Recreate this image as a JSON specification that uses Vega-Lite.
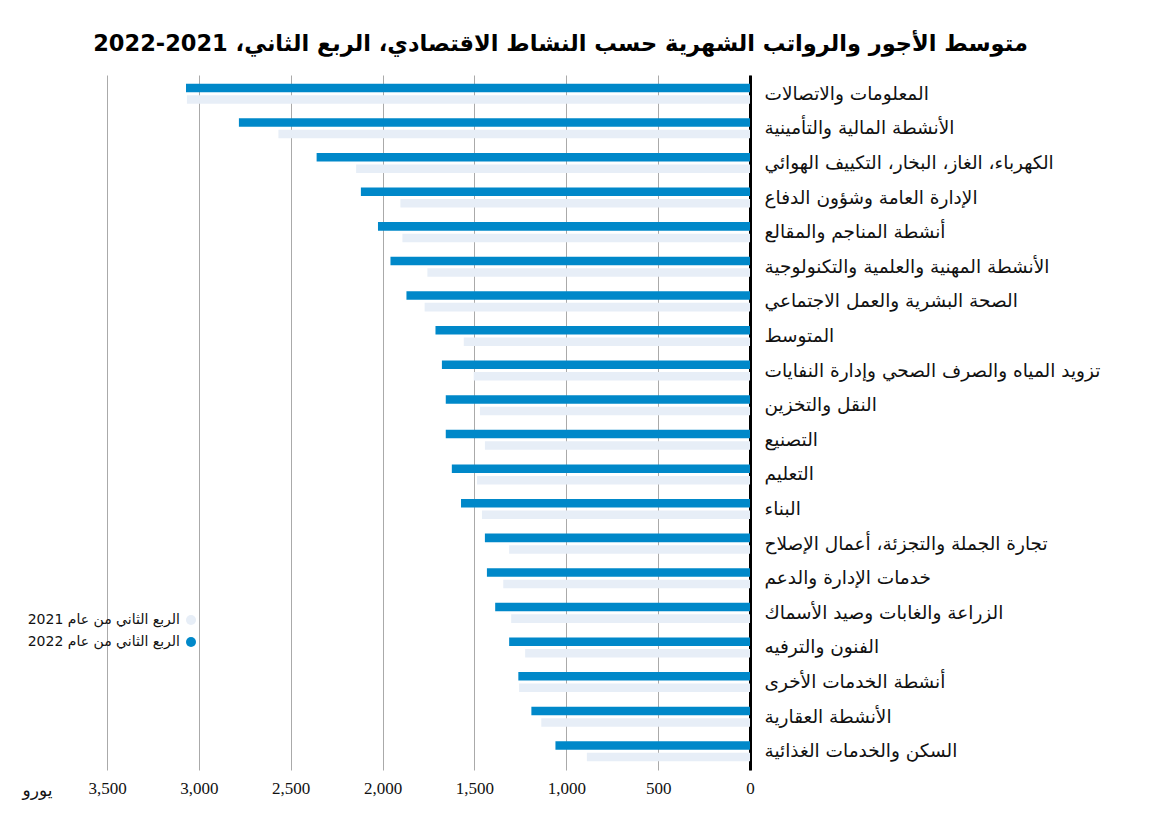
{
  "$schema": "https://vega.github.io/schema/vega-lite/v6.json",
  "autosize": {"type": "none"},
  "padding": {"left": 107, "top": 75, "right": 399, "bottom": 52},
  "width": 643,
  "height": 695,
  "background": "white",
  "title": {
    "text": "متوسط الأجور والرواتب الشهرية حسب النشاط الاقتصادي، الربع الثاني، 2021-2022",
    "font": "DejaVu Sans",
    "fontSize": 22.5,
    "fontWeight": "bold",
    "color": "#000000",
    "anchor": "middle",
    "dx": 132,
    "offset": 20
  },
  "config": {
    "view": {"stroke": null},
    "font": "DejaVu Sans"
  },
  "data": {
    "values": [
      {"category": "المعلومات والاتصالات", "series": "2022", "value": 3070},
      {"category": "المعلومات والاتصالات", "series": "2021", "value": 3065},
      {"category": "الأنشطة المالية والتأمينية", "series": "2022", "value": 2782},
      {"category": "الأنشطة المالية والتأمينية", "series": "2021", "value": 2567},
      {"category": "الكهرباء، الغاز، البخار، التكييف الهوائي", "series": "2022", "value": 2359},
      {"category": "الكهرباء، الغاز، البخار، التكييف الهوائي", "series": "2021", "value": 2144},
      {"category": "الإدارة العامة وشؤون الدفاع", "series": "2022", "value": 2118},
      {"category": "الإدارة العامة وشؤون الدفاع", "series": "2021", "value": 1903},
      {"category": "أنشطة المناجم والمقالع", "series": "2022", "value": 2025},
      {"category": "أنشطة المناجم والمقالع", "series": "2021", "value": 1892},
      {"category": "الأنشطة المهنية والعلمية والتكنولوجية", "series": "2022", "value": 1957},
      {"category": "الأنشطة المهنية والعلمية والتكنولوجية", "series": "2021", "value": 1756},
      {"category": "الصحة البشرية والعمل الاجتماعي", "series": "2022", "value": 1870},
      {"category": "الصحة البشرية والعمل الاجتماعي", "series": "2021", "value": 1771},
      {"category": "المتوسط", "series": "2022", "value": 1712},
      {"category": "المتوسط", "series": "2021", "value": 1558},
      {"category": "تزويد المياه والصرف الصحي وإدارة النفايات", "series": "2022", "value": 1677},
      {"category": "تزويد المياه والصرف الصحي وإدارة النفايات", "series": "2021", "value": 1504},
      {"category": "النقل والتخزين", "series": "2022", "value": 1656},
      {"category": "النقل والتخزين", "series": "2021", "value": 1470},
      {"category": "التصنيع", "series": "2022", "value": 1656},
      {"category": "التصنيع", "series": "2021", "value": 1443},
      {"category": "التعليم", "series": "2022", "value": 1623},
      {"category": "التعليم", "series": "2021", "value": 1486},
      {"category": "البناء", "series": "2022", "value": 1573},
      {"category": "البناء", "series": "2021", "value": 1459},
      {"category": "تجارة الجملة والتجزئة، أعمال الإصلاح", "series": "2022", "value": 1443},
      {"category": "تجارة الجملة والتجزئة، أعمال الإصلاح", "series": "2021", "value": 1311},
      {"category": "خدمات الإدارة والدعم", "series": "2022", "value": 1432},
      {"category": "خدمات الإدارة والدعم", "series": "2021", "value": 1343},
      {"category": "الزراعة والغابات وصيد الأسماك", "series": "2022", "value": 1387},
      {"category": "الزراعة والغابات وصيد الأسماك", "series": "2021", "value": 1300},
      {"category": "الفنون والترفيه", "series": "2022", "value": 1311},
      {"category": "الفنون والترفيه", "series": "2021", "value": 1224},
      {"category": "أنشطة الخدمات الأخرى", "series": "2022", "value": 1261},
      {"category": "أنشطة الخدمات الأخرى", "series": "2021", "value": 1257},
      {"category": "الأنشطة العقارية", "series": "2022", "value": 1190},
      {"category": "الأنشطة العقارية", "series": "2021", "value": 1136},
      {"category": "السكن والخدمات الغذائية", "series": "2022", "value": 1059},
      {"category": "السكن والخدمات الغذائية", "series": "2021", "value": 888}
    ]
  },
  "mark": {"type": "bar"},
  "encoding": {
    "y": {
      "field": "category",
      "type": "nominal",
      "sort": null,
      "scale": {"paddingInner": 0.42, "paddingOuter": 0.25},
      "axis": {
        "orient": "right",
        "title": null,
        "ticks": false,
        "domain": true,
        "domainColor": "#000000",
        "domainWidth": 3,
        "labelPadding": 14,
        "labelFontSize": 18.5,
        "labelColor": "#111111",
        "labelAlign": "left",
        "labelLimit": 400
      }
    },
    "yOffset": {
      "field": "series",
      "type": "nominal",
      "sort": ["2022", "2021"],
      "scale": {"paddingInner": 0.26}
    },
    "x": {
      "field": "value",
      "type": "quantitative",
      "scale": {"domain": [0, 3500], "reverse": true, "nice": false},
      "axis": {
        "values": [0, 500, 1000, 1500, 2000, 2500, 3000, 3500],
        "format": ",.0f",
        "grid": true,
        "gridColor": "#aaaaaa",
        "gridWidth": 1,
        "ticks": false,
        "domain": false,
        "labelFlush": false,
        "labelFont": "Liberation Sans Narrow",
        "labelFontSize": 17,
        "labelColor": "#111111",
        "labelPadding": 10,
        "title": "يورو",
        "titleFont": "DejaVu Sans",
        "titleFontSize": 17,
        "titleFontWeight": "normal",
        "titleColor": "#111111",
        "titleX": -70,
        "titleY": 20,
        "titleAlign": "center",
        "titleBaseline": "middle",
        "titleAngle": 0
      }
    },
    "color": {
      "field": "series",
      "type": "nominal",
      "scale": {"domain": ["2021", "2022"], "range": ["#e7eef7", "#0088c9"]},
      "legend": {
        "orient": "none",
        "legendX": 77,
        "legendY": 538,
        "title": null,
        "symbolType": "circle",
        "symbolSize": 100,
        "labelAlign": "right",
        "labelOffset": -18,
        "labelFontSize": 14,
        "labelColor": "#111111",
        "rowPadding": 8,
        "labelExpr": "'الربع الثاني من عام ' + datum.label"
      }
    }
  }
}
